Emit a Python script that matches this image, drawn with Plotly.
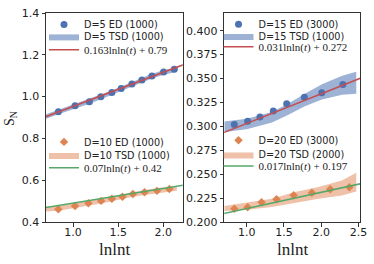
import plotly.graph_objects as go

# ---------------- data ----------------
# Left panel
d5_ed_x = [0.837, 1.022, 1.181, 1.308, 1.430, 1.533, 1.652, 1.763, 1.874, 2.003, 2.122]
d5_ed_y = [0.928, 0.956, 0.975, 0.999, 1.020, 1.039, 1.060, 1.079, 1.099, 1.118, 1.131]
d5_tsd_x = [0.70, 0.837, 1.022, 1.181, 1.308, 1.430, 1.533, 1.652, 1.763, 1.874, 2.003, 2.13]
d5_tsd_lo = [0.894, 0.915, 0.944, 0.966, 0.987, 1.007, 1.026, 1.047, 1.067, 1.087, 1.104, 1.117]
d5_tsd_hi = [0.916, 0.937, 0.966, 0.988, 1.009, 1.029, 1.048, 1.069, 1.089, 1.109, 1.126, 1.139]
d5_fit = (0.163, 0.79)

d10_ed_x = [0.837, 1.022, 1.170, 1.311, 1.430, 1.548, 1.663, 1.792, 1.930, 2.067]
d10_ed_y = [0.461, 0.477, 0.490, 0.501, 0.511, 0.521, 0.534, 0.542, 0.549, 0.558]
d10_tsd_x = [0.70, 0.837, 1.022, 1.170, 1.311, 1.430, 1.548, 1.663, 1.792, 1.930, 2.067, 2.15]
d10_tsd_lo = [0.450, 0.454, 0.466, 0.478, 0.489, 0.499, 0.509, 0.521, 0.529, 0.537, 0.545, 0.549]
d10_tsd_hi = [0.474, 0.478, 0.490, 0.502, 0.513, 0.523, 0.533, 0.545, 0.553, 0.561, 0.569, 0.573]
d10_fit = (0.07, 0.42)

# Right panel
d15_ed_x = [0.834, 1.013, 1.178, 1.357, 1.537, 1.774, 2.007, 2.290]
d15_ed_y = [0.3020, 0.3052, 0.3097, 0.3160, 0.3236, 0.3305, 0.3350, 0.3438]
d15_tsd_x = [0.70, 1.00, 1.34, 1.56, 1.78, 2.01, 2.28, 2.47]
d15_tsd_lo = [0.294, 0.297, 0.304, 0.312, 0.321, 0.328, 0.333, 0.334]
d15_tsd_hi = [0.305, 0.308, 0.315, 0.324, 0.334, 0.344, 0.353, 0.357]
d15_fit = (0.031, 0.272)

d20_ed_x = [0.834, 1.013, 1.200, 1.400, 1.630, 1.875, 2.120, 2.377]
d20_ed_y = [0.2138, 0.2155, 0.2207, 0.2238, 0.2280, 0.2305, 0.2342, 0.2363]
d20_tsd_x = [0.70, 1.068, 1.337, 1.65, 1.963, 2.277, 2.47]
d20_tsd_lo = [0.2115, 0.2132, 0.2156, 0.2198, 0.2243, 0.2278, 0.2320]
d20_tsd_hi = [0.2167, 0.2208, 0.2243, 0.2313, 0.2365, 0.2434, 0.2514]
d20_fit = (0.017, 0.197)

fit_span = [0.6, 2.6]

labels = {
    "d5_ed": "D=5 ED (1000)", "d5_tsd": "D=5 TSD (1000)", "d5_fit": "0.163lnln(<i>t</i>) + 0.79",
    "d10_ed": "D=10 ED (1000)", "d10_tsd": "D=10 TSD (1000)", "d10_fit": "0.07lnln(<i>t</i>) + 0.42",
    "d15_ed": "D=15 ED (3000)", "d15_tsd": "D=15 TSD (1000)", "d15_fit": "0.031lnln(<i>t</i>) + 0.272",
    "d20_ed": "D=20 ED (3000)", "d20_tsd": "D=20 TSD (2000)", "d20_fit": "0.017lnln(<i>t</i>) + 0.197",
}

# ---------------- style ----------------
BLUE = "#4C72B0"
ORANGE = "#DD8452"
RED = "#C44E52"
GREEN = "#55A868"
BLUE_FILL = "rgba(76,114,176,0.55)"
ORANGE_FILL = "rgba(221,132,82,0.5)"

W, H = 374, 264
ML, MR, MT, MB = 46, 14, 12.5, 41.5
PW = W - ML - MR
PH = H - MT - MB


def px_x(p):
    return (p - ML) / PW


def px_y(p):
    return (H - MB - p) / PH


fig = go.Figure()

legend_specs = []


def add_group(xa, ya, ed_x, ed_y, sym, msize, mcol, tsd_x, lo, hi, fillcol, fit, lcol,
              names, rows, text_left, legids):
    fig.add_trace(go.Scatter(
        x=tsd_x + tsd_x[::-1], y=hi + lo[::-1], fill="toself", fillcolor=fillcol,
        mode="lines", line=dict(width=0, color=fillcol), name=labels[names[1]],
        xaxis=xa, yaxis=ya, legend=legids[1], hoverinfo="skip"))
    fig.add_trace(go.Scatter(
        x=ed_x, y=ed_y, mode="markers", marker=dict(symbol=sym, size=msize, color=mcol),
        name=labels[names[0]], xaxis=xa, yaxis=ya, legend=legids[0]))
    a, b = fit
    fig.add_trace(go.Scatter(
        x=fit_span, y=[a * v + b for v in fit_span], mode="lines",
        line=dict(color=lcol, width=1.5), name=labels[names[2]],
        xaxis=xa, yaxis=ya, legend=legids[2]))
    for i, lid in enumerate(legids):
        legend_specs.append((lid, text_left, rows[i], i == 2))


add_group("x", "y", d5_ed_x, d5_ed_y, "circle", 7, BLUE, d5_tsd_x, d5_tsd_lo, d5_tsd_hi,
          BLUE_FILL, d5_fit, RED, ["d5_ed", "d5_tsd", "d5_fit"], [24, 36, 49.5], 84,
          ["legend", "legend2", "legend3"])
add_group("x", "y", d10_ed_x, d10_ed_y, "diamond", 6.5, ORANGE, d10_tsd_x, d10_tsd_lo, d10_tsd_hi,
          ORANGE_FILL, d10_fit, GREEN, ["d10_ed", "d10_tsd", "d10_fit"], [142, 155.3, 168], 84,
          ["legend4", "legend5", "legend6"])
add_group("x2", "y2", d15_ed_x, d15_ed_y, "circle", 7, BLUE, d15_tsd_x, d15_tsd_lo, d15_tsd_hi,
          BLUE_FILL, d15_fit, RED, ["d15_ed", "d15_tsd", "d15_fit"], [23.7, 35.5, 46.5], 258.5,
          ["legend7", "legend8", "legend9"])
add_group("x2", "y2", d20_ed_x, d20_ed_y, "diamond", 6.5, ORANGE, d20_tsd_x, d20_tsd_lo, d20_tsd_hi,
          ORANGE_FILL, d20_fit, GREEN, ["d20_ed", "d20_tsd", "d20_fit"], [140.3, 154.7, 166.3], 258.5,
          ["legend10", "legend11", "legend12"])

legends = {}
for lid, text_left, row, is_math in legend_specs:
    legends[lid] = dict(
        x=px_x(text_left - 40), y=px_y(row), xanchor="left", yanchor="middle",
        xref="paper", yref="paper", bgcolor="rgba(0,0,0,0)", borderwidth=0,
        itemwidth=30, itemclick=False,
        font=dict(family="Liberation Serif" if is_math else "DejaVu Sans",
                  size=11 if is_math else 9.7, color="#222"))

AX = dict(showline=True, linecolor="#333", linewidth=1, mirror=True, ticks="outside",
          ticklen=3.5, tickwidth=1, tickcolor="#333", showgrid=False, zeroline=False,
          tickfont=dict(family="DejaVu Sans", size=11, color="#222"))

x1_end = px_x(182.7)
x2_start = px_x(224.3)

fig.update_layout(
    width=W, height=H, margin=dict(l=ML, r=MR, t=MT, b=MB, autoexpand=False), showlegend=True,
    paper_bgcolor="white", plot_bgcolor="white",
    xaxis=dict(domain=[0, x1_end], range=[0.7, 2.215], tickvals=[1.0, 1.5, 2.0],
               tickformat=".1f", anchor="y", ticklabelstandoff=-4, **AX),
    yaxis=dict(domain=[0, 1], range=[0.4, 1.4], dtick=0.2, tickformat=".1f", anchor="x", **AX),
    xaxis2=dict(domain=[x2_start, 1], range=[0.7, 2.52], tickvals=[1.0, 1.5, 2.0, 2.5],
                tickformat=".1f", anchor="y2", ticklabelstandoff=-4, **AX),
    yaxis2=dict(domain=[0, 1], range=[0.2, 0.4185], tick0=0.2, dtick=0.025, tickformat=".3f",
                anchor="x2", **AX),
    **legends,
)

TITLE_FONT = dict(family="Liberation Serif", size=17, color="#222")
fig.add_annotation(text="lnlnt", xref="paper", yref="paper", x=px_x(114.3), y=px_y(250),
                   xanchor="center", yanchor="middle", showarrow=False, font=TITLE_FONT)
fig.add_annotation(text="lnlnt", xref="paper", yref="paper", x=px_x(292), y=px_y(250),
                   xanchor="center", yanchor="middle", showarrow=False, font=TITLE_FONT)
fig.add_annotation(text="S<sub>N</sub>", xref="paper", yref="paper", x=px_x(11), y=px_y(119),
                   xanchor="center", yanchor="middle", showarrow=False, textangle=-90,
                   font=dict(family="Liberation Serif", size=14, color="#222"))

fig.write_html("out.html", config={"displayModeBar": False},
               post_script="document.body.style.margin='0';")
